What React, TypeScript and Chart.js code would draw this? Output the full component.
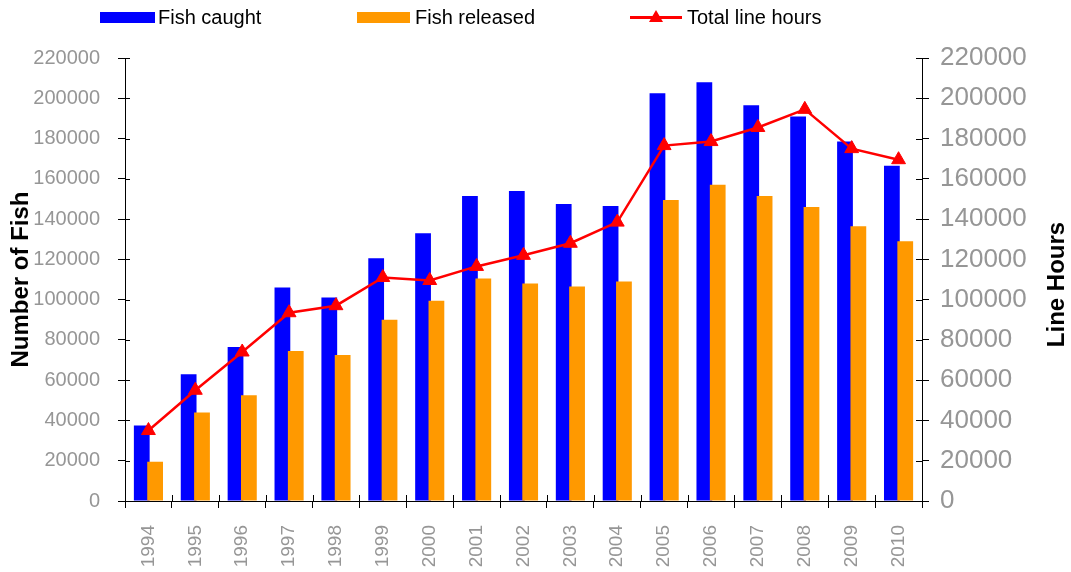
import React, { useEffect, useRef } from 'react';
import { Chart, registerables } from 'chart.js';

Chart.register(...registerables);

const years = ['1994', '1995', '1996', '1997', '1998', '1999', '2000', '2001', '2002', '2003', '2004', '2005', '2006', '2007', '2008', '2009', '2010'];
const fishCaught = [37500, 63000, 76500, 106000, 101000, 120500, 133000, 151500, 154000, 147500, 146500, 202500, 208000, 196500, 191000, 178500, 166500];
const fishReleased = [19500, 44000, 52500, 74500, 72500, 90000, 99500, 110500, 108000, 106500, 109000, 149500, 157000, 151500, 146000, 136500, 129000];
const lineHours = [35000, 55000, 74000, 93500, 97000, 111000, 109500, 116500, 122000, 128000, 138500, 176500, 178500, 185500, 194500, 175000, 169500];

const axisMax = 220000;
const axisStep = 20000;

const FONT = '"Liberation Sans", Arial, sans-serif';
const BLUE = '#0000FF';
const ORANGE = '#FF9900';
const RED = '#FF0000';
const TICK_GRAY = '#969696';

// dataset indices
const LINE_IDX = 0;
const CAUGHT_IDX = 1;
const RELEASED_IDX = 2;

// Draw "Fish caught" before "Fish released" so the orange bars overlap the blue ones.
const barOrder = {
  id: 'barOrder',
  beforeDatasetDraw(chart: any, args: any) {
    if (args.index === CAUGHT_IDX) return false;
    if (args.index === RELEASED_IDX) {
      const meta = chart.getDatasetMeta(CAUGHT_IDX);
      if (meta && meta.visible !== false) meta.controller.draw();
    }
    return true;
  },
};

const crossTicks = {
  id: 'crossTicks',
  afterDraw(chart: any) {
    const { ctx, scales } = chart;
    const x = scales.x, y = scales.y, y1 = scales.y1;
    ctx.save();
    ctx.strokeStyle = '#000';
    ctx.lineWidth = 1;
    ctx.beginPath();
    y.ticks.forEach((t: any) => {
      const py = Math.round(y.getPixelForValue(t.value)) + 0.5;
      ctx.moveTo(y.right, py);
      ctx.lineTo(y.right + 5, py);
    });
    y1.ticks.forEach((t: any) => {
      const py = Math.round(y1.getPixelForValue(t.value)) + 0.5;
      ctx.moveTo(y1.left - 6, py);
      ctx.lineTo(y1.left, py);
    });
    const n = years.length;
    const w = (x.right - x.left) / n;
    for (let i = 0; i <= n; i++) {
      const px = Math.round(x.left + i * w) + 0.5;
      ctx.moveTo(px, x.top - 6);
      ctx.lineTo(px, x.top);
    }
    ctx.stroke();
    ctx.restore();
  },
};

const rightTitle = {
  id: 'rightTitle',
  afterDraw(chart: any) {
    const { ctx, chartArea, scales } = chart;
    const s = scales.y1;
    ctx.save();
    ctx.translate(s.right - 14, (chartArea.top + chartArea.bottom) / 2 + 5);
    ctx.rotate(-Math.PI / 2);
    ctx.font = 'bold 24px ' + FONT;
    ctx.fillStyle = '#000';
    ctx.textAlign = 'center';
    ctx.textBaseline = 'middle';
    ctx.fillText('Line Hours', 0, 0);
    ctx.restore();
  },
};

export default function App() {
  const ref = useRef<HTMLCanvasElement | null>(null);

  useEffect(() => {
    if (!ref.current) return;
    const barCommon = { categoryPercentage: 0.57, barPercentage: 1.18, borderWidth: 0, yAxisID: 'y' };
    const chart = new Chart(ref.current, {
      type: 'bar',
      data: {
        labels: years,
        datasets: [
          { type: 'line', label: 'Total line hours', data: lineHours, yAxisID: 'y1',
            borderColor: RED, backgroundColor: RED, borderWidth: 2.5, pointStyle: 'triangle', pointRadius: 8,
            pointBorderWidth: 1, pointBackgroundColor: RED, pointBorderColor: RED, tension: 0 } as any,
          { label: 'Fish caught', data: fishCaught, backgroundColor: BLUE, ...barCommon } as any,
          { label: 'Fish released', data: fishReleased, backgroundColor: ORANGE, ...barCommon } as any,
        ],
      },
      options: {
        responsive: false,
        animation: false,
        devicePixelRatio: 1,
        layout: { padding: { top: 58, left: 0, right: 0, bottom: 0 } },
        plugins: { legend: { display: false }, tooltip: { enabled: false } },
        scales: {
          x: {
            type: 'category',
            offset: true,
            grid: { offset: true, drawOnChartArea: false, tickLength: 7, color: '#000' },
            border: { color: '#000', width: 1 },
            ticks: { color: TICK_GRAY, font: { family: FONT, size: 19 }, minRotation: 90, maxRotation: 90, padding: 17, autoSkip: false },
            afterFit: (s: any) => { s.height = 71; },
          },
          y: {
            position: 'left',
            min: 0,
            max: axisMax,
            grid: { drawOnChartArea: false, tickLength: 7, color: '#000' },
            border: { color: '#000', width: 1 },
            ticks: { stepSize: axisStep, maxTicksLimit: 20, color: TICK_GRAY, font: { family: FONT, size: 20 }, padding: 18, callback: (v: any) => String(v) },
            title: { display: true, text: 'Number of Fish', color: '#000', font: { family: FONT, size: 24, weight: 'bold' }, padding: { top: 7, bottom: 0 } },
            afterFit: (s: any) => { s.width = 125; },
          },
          y1: {
            position: 'right',
            min: 0,
            max: axisMax,
            grid: { drawOnChartArea: false, tickLength: 7, color: '#000' },
            border: { color: '#000', width: 1 },
            ticks: { stepSize: axisStep, maxTicksLimit: 20, color: TICK_GRAY, font: { family: FONT, size: 26 }, padding: 11, callback: (v: any) => String(v) },
            afterFit: (s: any) => { s.width = 149; },
          },
        },
      } as any,
      plugins: [barOrder, crossTicks, rightTitle],
    });
    return () => chart.destroy();
  }, []);

  const legendText: React.CSSProperties = { position: 'absolute', top: 5, fontFamily: FONT, fontSize: 20, color: '#000', lineHeight: '24px', whiteSpace: 'nowrap' };

  return (
    <div style={{ position: 'fixed', left: 0, top: 0, width: 1071, height: 572, background: '#fff', overflow: 'hidden' }}>
      <canvas ref={ref} width={1071} height={572} style={{ position: 'absolute', left: 0, top: 0 }} />
      <div style={{ position: 'absolute', left: 100, top: 12, width: 55, height: 11, background: BLUE }} />
      <div style={{ ...legendText, left: 158 }}>Fish caught</div>
      <div style={{ position: 'absolute', left: 357, top: 12, width: 53, height: 11, background: ORANGE }} />
      <div style={{ ...legendText, left: 415 }}>Fish released</div>
      <div style={{ position: 'absolute', left: 630, top: 16, width: 52, height: 3, background: RED }} />
      <div style={{ position: 'absolute', left: 649, top: 10, width: 0, height: 0, borderLeft: '7px solid transparent', borderRight: '7px solid transparent', borderBottom: '12px solid ' + RED }} />
      <div style={{ ...legendText, left: 687 }}>Total line hours</div>
    </div>
  );
}
